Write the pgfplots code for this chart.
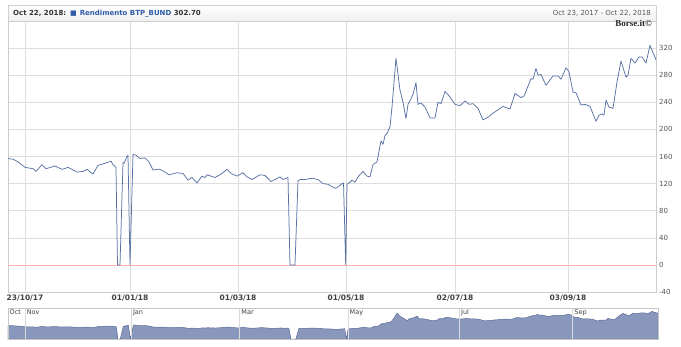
\documentclass[border=0pt]{standalone}
\usepackage{fontspec}
\setmainfont{DejaVu Sans}
\newfontfamily\borsefont{Liberation Serif}
\usepackage{pgfplots}
\pgfplotsset{compat=1.18}
\usepackage{pgfplotstable}
\definecolor{linec}{HTML}{5872A3}
\definecolor{navfill}{HTML}{8A97BD}
\definecolor{navline}{HTML}{5B6A96}
\definecolor{hdrblue}{HTML}{2F5CA8}
\definecolor{txtgray}{HTML}{555555}
\definecolor{gridc}{HTML}{DEDEDE}
% x: horizontal position along the time axis (23/10/2017 = 8 ... 22/10/2018 = 656)
\pgfplotstableread{
x y
8 157
13 156
18 152
25 144
33 142
36 138
42 148
46 142
55 146
62 141
68 144
77 137
83 138
87 141
93 134
98 147
103 149
107 151
111 153
113 148
116 144
117.5 0
120 0
123 151
124 150
127 160
128 162
130 0
133 163
136 162
140 157
145 158
149 152
153 140
157 141
160 141
165 137
169 133
177 136
183 135
188 125
192 129
197 121
202 131
205 129
207 133
215 129
221 134
227 141
231 135
237 131
243 136
247 130
252 126
260 133
265 132
271 123
275 126
280 130
283 126
288 129
290 0
295 0
298 124
300 126
305 126
312 128
318 126
323 120
328 119
335 113
338 115
342 120
343.5 121
345.7 0
347 119
350 122
352 125
355 122
358 130
363 138
367 131
370 130
373 148
377 152
381 183
383 178
385 191
387 194
390 204
392 233
396 305
400 258
403 240
406 216
408 237
411 245
413 252
416 269
418 237
421 239
425 233
430 217
435 217
438 240
441 238
445 256
450 248
455 237
460 235
465 242
469 237
473 238
478 231
483 214
488 218
493 224
498 229
503 234
510 230
515 253
521 247
524 249
531 275
533 274
536 290
538 280
541 281
546 265
553 279
558 279
561 274
566 291
569 285
573 255
576 254
581 236
585 237
590 234
596 212
599 221
602 223
604 221
606 243
609 233
613 231
617 270
621 301
626 277
628 280
631 305
635 298
639 307
642 307
646 298
650 324
656 302.7
}\spread
\begin{document}
\begin{tikzpicture}[x=1pt,y=1pt]
\path[use as bounding box] (0,0) rectangle (681,346);
% header bar
\fill[top color=white, bottom color=gray!12] (8,325) rectangle (656,341);
\draw[gray!35] (8,325) rectangle (656,341);
\node[anchor=base west, inner sep=0pt, font=\fontsize{7}{8}\selectfont\bfseries, text=black!80] at (13,330) {Oct 22, 2018:\hspace{4pt}\textcolor{hdrblue}{\fontsize{7}{7}\selectfont■}\hspace{3pt}\textcolor{hdrblue}{Rendimento BTP\_BUND} 302.70};
\node[anchor=base east, inner sep=0pt, font=\fontsize{7}{8}\selectfont, text=txtgray] at (651,330) {Oct 23, 2017 - Oct 22, 2018};
% main chart
\begin{axis}[
  at={(8pt,54pt)}, anchor=south west,
  width=648pt, height=271pt, scale only axis,
  xmin=8, xmax=656, ymin=-40, ymax=360,
  xtick={25,130,238,346,455,568},
  xticklabels={23/10/17,01/01/18,01/03/18,01/05/18,02/07/18,03/09/18},
  ytick={-40,40,80,120,160,200,240,280,320},
  extra y ticks={0},
  extra y tick style={grid style={draw=red!30}},
  grid=major, grid style={draw=gridc, line width=0.6pt},
  major tick length=0pt,
  axis line style={draw=gray!40},
  yticklabel pos=right,
  /pgf/number format/assume math mode=true,
  y tick label style={anchor=west, inner sep=0pt, xshift=3pt, font=\fontsize{7}{8}\selectfont, text=txtgray},
  x tick label style={anchor=north, inner sep=0pt, yshift=-3pt, font=\fontsize{7.5}{8}\selectfont\bfseries, text=black!75},
  clip=true,
]
\addplot[color=linec, line width=0.75pt, line join=round] table[x=x,y=y] {\spread};
\end{axis}
\node[anchor=base east, inner sep=0pt, font=\fontsize{9}{10}\selectfont\borsefont\bfseries, text=black!85] at (652,319) {Borse.it©};
% navigator
\begin{axis}[
  at={(8pt,7pt)}, anchor=south west,
  width=650pt, height=31pt, scale only axis,
  xmin=8, xmax=656, ymin=0, ymax=365,
  xtick={25,131,239,347,458,571}, ytick=\empty,
  xticklabels={},
  grid=major, grid style={draw=gray!30, line width=0.6pt},
  major tick length=0pt,
  axis line style={draw=gray!45},
  axis on top,
]
\addplot[fill=navfill, draw=navline, line width=0.5pt] table[x=x,y=y] {\spread} \closedcycle;
\node[anchor=north west, inner sep=1.5pt, font=\fontsize{6.5}{7}\selectfont, text=black!75] at (axis cs:8,365) {Oct};
\node[anchor=north west, inner sep=1.5pt, font=\fontsize{6.5}{7}\selectfont, text=black!75] at (axis cs:25,365) {Nov};
\node[anchor=north west, inner sep=1.5pt, font=\fontsize{6.5}{7}\selectfont, text=black!75] at (axis cs:131,365) {Jan};
\node[anchor=north west, inner sep=1.5pt, font=\fontsize{6.5}{7}\selectfont, text=black!75] at (axis cs:239,365) {Mar};
\node[anchor=north west, inner sep=1.5pt, font=\fontsize{6.5}{7}\selectfont, text=black!75] at (axis cs:347,365) {May};
\node[anchor=north west, inner sep=1.5pt, font=\fontsize{6.5}{7}\selectfont, text=black!75] at (axis cs:458,365) {Jul};
\node[anchor=north west, inner sep=1.5pt, font=\fontsize{6.5}{7}\selectfont, text=black!75] at (axis cs:571,365) {Sep};
\end{axis}
\end{tikzpicture}
\end{document}
